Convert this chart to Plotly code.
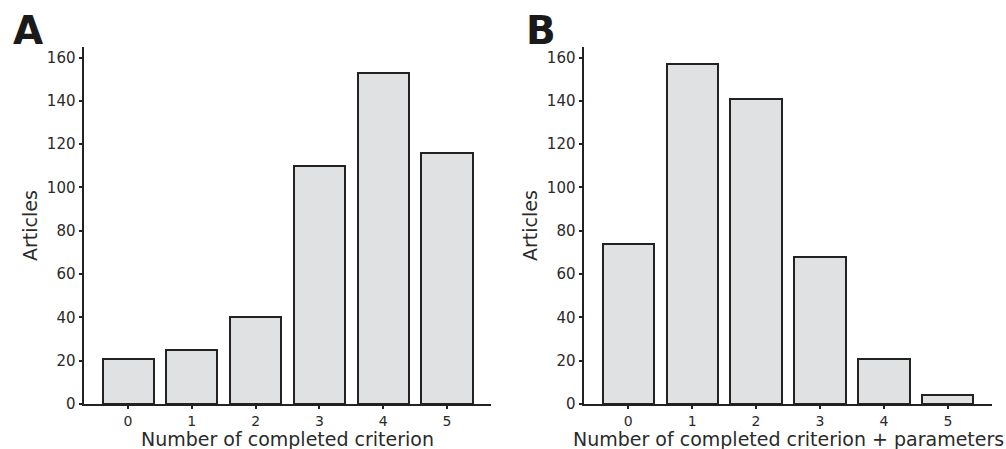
import plotly.graph_objects as go

categories = [0, 1, 2, 3, 4, 5]
articles_a = [21, 25, 40, 110, 153, 116]
articles_b = [74, 157, 141, 68, 21, 4]
tick_labels = ["0", "1", "2", "3", "4", "5"]
y_ticks = [0, 20, 40, 60, 80, 100, 120, 140, 160]
x_titles = ["Number of completed criterion", "Number of completed criterion + parameters"]
panel_letters = ["A", "B"]

W, H = 1006, 449
fig = go.Figure()

fill = "#e0e1e3"
edge = "#222222"
txt = "#2a2a2a"

fig.add_trace(go.Bar(x=categories, y=articles_a, width=0.8, marker=dict(color=fill, line=dict(color=edge, width=2)),
                     xaxis="x", yaxis="y", showlegend=False))
fig.add_trace(go.Bar(x=categories, y=articles_b, width=0.8, marker=dict(color=fill, line=dict(color=edge, width=2)),
                     xaxis="x2", yaxis="y2", showlegend=False))

ymax = max(max(articles_a), max(articles_b)) * 1.05
xr = [-0.69, 5.69]

xa = dict(range=xr, tickvals=categories, ticktext=tick_labels, showline=True, linecolor=edge, linewidth=2,
          ticks="outside", ticklen=3, tickwidth=1.5, tickcolor=edge, showgrid=False, zeroline=False,
          automargin=False,
          tickfont=dict(family="DejaVu Sans", size=14, color=txt))
ya = dict(range=[0, ymax], tickvals=y_ticks, showline=True, linecolor=edge, linewidth=2,
          ticks="outside", ticklen=3.5, tickwidth=1.5, tickcolor=edge, showgrid=False, zeroline=False,
          automargin=False,
          tickfont=dict(family="DejaVu Sans", size=15, color=txt),
          title=dict(text="Articles", font=dict(family="DejaVu Sans", size=19, color=txt), standoff=4))

d1 = [84 / W, 491 / W]
d2 = [584 / W, 992 / W]
yd = [1 - 404 / H, 1 - 47 / H]

fig.update_layout(
    width=W, height=H, margin=dict(l=0, r=0, t=0, b=0),
    paper_bgcolor="white", plot_bgcolor="white", bargap=0,
    xaxis=dict(xa, domain=d1, anchor="y"),
    yaxis=dict(ya, domain=yd, anchor="x"),
    xaxis2=dict(xa, domain=d2, anchor="y2"),
    yaxis2=dict(ya, domain=yd, anchor="x2"),
)

for title, dom in zip(x_titles, [d1, d2]):
    fig.add_annotation(text=title, xref="paper", yref="paper", x=(dom[0] + dom[1]) / 2, y=1 - 438.5 / H,
                       xanchor="center", yanchor="middle", showarrow=False, borderpad=0,
                       font=dict(family="DejaVu Sans", size=19, color=txt))

for letter, xpos in zip(panel_letters, [11, 524]):
    fig.add_annotation(text="<b>" + letter + "</b>", xref="paper", yref="paper",
                       x=xpos / W, y=1 - 6 / H, xanchor="left", yanchor="top", showarrow=False,
                       font=dict(family="DejaVu Sans", size=39, color="#1a1a1a"))

fig.write_html("out.html", config={"displayModeBar": False},
               post_script="document.body.style.margin='0';document.body.style.overflow='hidden';")
